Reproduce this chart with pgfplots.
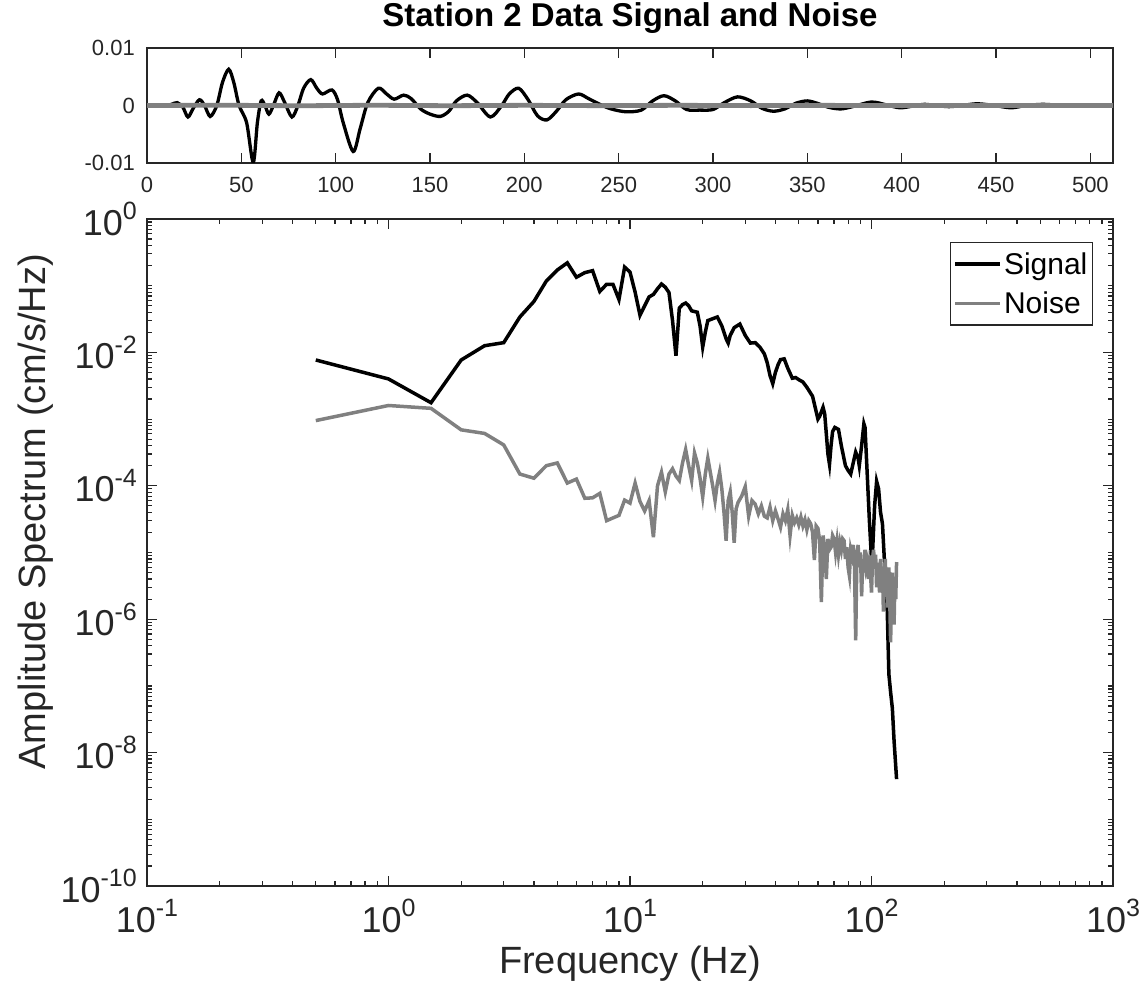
\documentclass[border=0pt]{standalone}
\usepackage{pgfplots}
\pgfplotsset{compat=1.18}
\usepackage{fontspec}
\setmainfont{Liberation Sans}
\definecolor{ax}{gray}{0.15}
\definecolor{noisec}{gray}{0.5}
\newcommand\E[1]{10\raisebox{0.42em}{\fontsize{25}{25}\selectfont #1}}
\begin{document}
\begin{tikzpicture}[x=1pt,y=1pt]
\path[use as bounding box] (0,0) rectangle (1148,1006);
% ---------------- top axis: time series
\begin{axis}[at={(147pt,843pt)}, anchor=south west, scale only axis,
  width=966pt, height=115pt,
  xmin=0, xmax=512, ymin=-0.01, ymax=0.01,
  scaled y ticks=false,
  xtick={0,50,100,150,200,250,300,350,400,450,500},
  xticklabels={0,50,100,150,200,250,300,350,400,450,500},
  ytick={-0.01,0,0.01}, yticklabels={-0.01,0,0.01},
  axis line style={ax, line width=1.2pt},
  tick style={ax, line width=1.2pt}, major tick length=10pt,
  tick align=inside,
  ticklabel style={text=ax, font=\fontsize{22}{24}\selectfont},
  xticklabel style={anchor=base, inner sep=0pt, yshift=-30pt},
  yticklabel style={anchor=east, inner sep=0pt, xshift=-12pt},
  title={Station 2 Data Signal and Noise},
  title style={at={(0.5,1)}, anchor=base, yshift=15pt, inner sep=0pt, font=\bfseries\fontsize{33}{36}\selectfont},
]
\addplot[black, line width=3.3pt, smooth, tension=0.5] coordinates {
(0,0) (10,0) (13,0.0002) (16,0.0005) (19,-0.0003) (21.7,-0.002) (24.5,-0.0005) (27.8,0.001) (30.5,0) (33.5,-0.0019) (37,0) (40,0.004) (43.3,0.0063) (46,0.004) (48.8,0) (52.8,-0.003) (56.3,-0.0099) (58.5,-0.003) (60.5,0.0008) (62.5,0) (64.6,-0.0015) (67,0) (70,0.0022) (73,0.0005) (76.8,-0.002) (80,0) (83,0.003) (86.8,0.0045) (90,0.003) (93,0.002) (98,0.0027) (101,0.001) (104,-0.003) (109.3,-0.008) (113,-0.004) (117,0.0005) (122.6,0.003) (127,0.002) (131,0.0011) (136,0.0018) (140,0.0012) (145,-0.0006) (150,-0.0015) (155.5,-0.0019) (160,-0.001) (164,0.0008) (169.7,0.0018) (175,0.0005) (182,-0.002) (188,0) (192,0.002) (197,0.003) (202,0.001) (207,-0.0018) (212,-0.0025) (217,-0.001) (222,0.001) (228.7,0.002) (234,0.0012) (240,0.0002) (246,-0.0006) (254,-0.0011) (262,-0.0008) (268,0.0008) (274,0.0017) (280,0.0008) (286,-0.0007) (293,-0.0008) (300,-0.0007) (306,0.0005) (313,0.0015) (320,0.0008) (326,-0.0005) (332,-0.001) (338,-0.0006) (344,0.0004) (350,0.0008) (356,0.0003) (361,-0.0003) (367.6,-0.0006) (374,-0.0002) (384,0.0006) (392,0.0001) (399,-0.0004) (406,-0.0001) (412,0.0002) (418,0) (425,-0.0002) (432,0) (440,0.0003) (449,0) (458,-0.0004) (466,0) (475,0.0002) (485,0) (495,-0.0001) (505,0) (512,0)
};
\addplot[noisec, line width=4.8pt] coordinates {
(0,0) (40,0.00005) (80,-0.00005) (120,0.00004) (160,-0.00004) (200,0.00003) (240,-0.00003) (280,0.00003) (320,-0.00002) (360,0.00002) (400,-0.00002) (440,0.00001) (480,-0.00001) (512,0)
};
\end{axis}
% ---------------- bottom axis: spectra
\begin{axis}[at={(147pt,120pt)}, anchor=south west, scale only axis,
  width=966pt, height=667pt,
  xmode=log, ymode=log,
  xmin=0.1, xmax=1000, ymin=1e-10, ymax=1,
  xtick={0.1,1,10,100,1000},
  xticklabels={\E{-1},\E{0},\E{1},\E{2},\E{3}},
  minor xtick={0.2,0.3,0.4,0.5,0.6,0.7,0.8,0.9,2,3,4,5,6,7,8,9,20,30,40,50,60,70,80,90,200,300,400,500,600,700,800,900},
  ytick={1e-10,1e-8,1e-6,1e-4,1e-2,1},
  yticklabels={\E{-10},\E{-8},\E{-6},\E{-4},\E{-2},\E{0}},
  minor ytick={2e-10,3e-10,4e-10,5e-10,6e-10,7e-10,8e-10,9e-10,1e-9,2e-9,3e-9,4e-9,5e-9,6e-9,7e-9,8e-9,9e-9,2e-8,3e-8,4e-8,5e-8,6e-8,7e-8,8e-8,9e-8,1e-7,2e-7,3e-7,4e-7,5e-7,6e-7,7e-7,8e-7,9e-7,2e-6,3e-6,4e-6,5e-6,6e-6,7e-6,8e-6,9e-6,1e-5,2e-5,3e-5,4e-5,5e-5,6e-5,7e-5,8e-5,9e-5,2e-4,3e-4,4e-4,5e-4,6e-4,7e-4,8e-4,9e-4,1e-3,2e-3,3e-3,4e-3,5e-3,6e-3,7e-3,8e-3,9e-3,2e-2,3e-2,4e-2,5e-2,6e-2,7e-2,8e-2,9e-2,1e-1,2e-1,3e-1,4e-1,5e-1,6e-1,7e-1,8e-1,9e-1},
  axis line style={ax, line width=1.2pt},
  tick style={ax, line width=1.2pt}, major tick length=10pt, minor tick length=5pt,
  tick align=inside,
  ticklabel style={text=ax, font=\fontsize{36}{40}\selectfont},
  xticklabel style={anchor=base, inner sep=0pt, yshift=-46pt},
  yticklabel style={anchor=east, inner sep=0pt, xshift=-10pt},
  xlabel={Frequency (Hz)},
  xlabel style={at={(axis description cs:0.5,0)}, anchor=base, yshift=-87pt, inner sep=0pt, text=ax, font=\fontsize{38}{42}\selectfont},
  ylabel={Amplitude Spectrum (cm/s/Hz)},
  ylabel style={at={(axis description cs:-0.1055,0.561)}, anchor=base, rotate=0, inner sep=0pt, text=ax, font=\fontsize{38}{42}\selectfont},
  legend style={at={(1,1)}, anchor=north east, xshift=-20pt, yshift=-23pt, draw=ax, line width=1.2pt, fill=white,
    font=\fontsize{30}{32}\selectfont, inner xsep=3pt, inner ysep=8pt, row sep=12pt, cells={anchor=west}},
  legend image code/.code={\draw[#1] (0pt,0pt) -- (45pt,0pt);},
]
\addplot[black, line width=3.5pt] coordinates {
(0.5,7.7e-3) (1.0,4.0e-3) (1.5,1.76e-3) (2.0,7.7e-3) (2.5,1.26e-2) (3.0,1.4e-2) (3.5,3.4e-2) (4.0,5.8e-2) (4.5,0.117) (5.0,0.172) (5.5,0.22) (6.0,0.134) (6.5,0.157) (7.0,0.168) (7.5,0.082) (8.0,0.105) (8.5,0.105) (9.0,0.062) (9.5,0.19) (10.0,0.16) (10.5,0.08) (11.0,0.036) (11.5,0.05) (12.0,0.068) (12.5,0.074) (13.0,0.09) (13.5,0.106) (14.0,0.095) (14.5,0.079) (15.0,0.03) (15.5,0.0089) (16.0,0.046) (16.5,0.052) (17.0,0.055) (17.5,0.05) (18.0,0.042) (19.0,0.04) (19.5,0.025) (20.0,0.012) (20.5,0.02) (21.0,0.03) (22.0,0.032) (23.0,0.034) (24.0,0.025) (25.0,0.016) (25.5,0.0138) (26,0.018) (27.0,0.0235) (28.5,0.0266) (30,0.018) (31.5,0.0138) (33,0.014) (34.5,0.012) (36,0.0095) (37,0.007) (38,0.0045) (39,0.0034) (40,0.005) (41,0.0065) (42,0.0078) (43.5,0.008) (45,0.0058) (47,0.0041) (48.5,0.0042) (50,0.0039) (52,0.0036) (54,0.003) (55,0.0027) (57,0.0022) (59,0.0013) (60,0.001) (61,0.0011) (63,0.0015) (64,0.0012) (65,0.0006) (66,0.0003) (67,2.1e-4) (68,0.0004) (69,0.00065) (70.5,7.5e-4) (72,7.2e-4) (73,7e-4) (75,4e-4) (78,2e-4) (80,1.7e-4) (82,1.5e-4) (84,2.2e-4) (86,3.2e-4) (88,2.6e-4) (89,2e-4) (91,4e-4) (93,8.5e-4) (94,7.5e-4) (96,1.5e-4) (98,3e-5) (100,8e-6) (101,1e-5) (103,5e-5) (105,1.17e-4) (107,9e-5) (109,4e-5) (111,2.7e-5) (113,8e-6) (116,1.7e-6) (118,1.5e-7) (120,8e-8) (122,4.6e-8) (124,1.5e-8) (127,4e-9)
};
\addlegendentry{Signal}
\addplot[noisec, line width=3.5pt] coordinates {
(0.5,9.5e-4) (1.0,1.6e-3) (1.5,1.45e-3) (2.0,6.9e-4) (2.5,6.1e-4) (3.0,4.1e-4) (3.5,1.5e-4) (4.0,1.3e-4) (4.5,2.0e-4) (5.0,2.2e-4) (5.5,1.1e-4) (6.0,1.26e-4) (6.5,6.5e-5) (7.0,6.6e-5) (7.5,7.7e-5) (8.0,3.0e-5) (8.5,3.3e-5) (9.0,3.6e-5) (9.5,6.1e-5) (10.0,5.5e-5) (10.5,1.1e-4) (11.0,5.8e-5) (11.5,4.2e-5) (12.0,6.0e-5) (12.5,1.7e-5) (13.0,1.0e-4) (13.5,1.6e-4) (14.0,8.1e-5) (14.5,1.5e-4) (15.0,1.8e-4) (15.5,1.4e-4) (16.0,1.2e-4) (16.5,2.2e-4) (17.0,3.5e-4) (17.5,2.0e-4) (18.0,1.2e-4) (18.5,3.1e-4) (19.0,2.2e-4) (19.5,1.3e-4) (20.0,6.8e-5) (20.5,1.5e-4) (21.0,2.6e-4) (21.5,1.6e-4) (22.0,1.0e-4) (22.5,6.0e-5) (23.0,1.1e-4) (23.5,1.6e-4) (24.0,9e-5) (24.5,4e-5) (25.0,1.5e-5) (25.5,6e-5) (26.0,8.1e-5) (26.5,4e-5) (27.0,1.4e-5) (27.5,4.5e-5) (28.0,5.6e-5) (29,7e-5) (30,9.7e-5) (31,3.5e-5) (32,6e-5) (33,5.3e-5) (34,3.8e-5) (35,5e-5) (36,3.5e-5) (37,3.3e-5) (38,4.8e-5) (39,3e-5) (40,4.2e-5) (41,3.2e-5) (42,2.4e-5) (43,3.8e-5) (44,3e-5) (45,4.4e-5) (46,1.8e-5) (47,3.6e-5) (48,2.8e-5) (49,3.3e-5) (50,2.6e-5) (51,3.4e-5) (52,2.5e-5) (53,3.1e-5) (54,2.2e-5) (55,3e-5) (56,2.7e-5) (57,2e-5) (58,7.7e-6) (59,2.5e-5) (60,2.3e-5) (61,1.5e-5) (62,1.8e-6) (63,1.8e-5) (64,1.2e-5) (65,4e-6) (66,1.6e-5) (67,1.1e-5) (68,1.2e-5) (69,1.8e-5) (70,1.6e-5) (71,1e-5) (72,1.5e-5) (73,9.3e-6) (74,1.4e-5) (75,1.1e-5) (76,1.6e-5) (77,1.5e-5) (78,8e-6) (79,1.2e-5) (80,6e-6) (81,4.5e-6) (82,1.1e-5) (83,9e-6) (84,1.3e-5) (85,7e-6) (86,4.8e-7) (87,9e-6) (88,1.3e-5) (89,6e-6) (90,1e-5) (91,2.2e-6) (92,8e-6) (93,5e-6) (94,1.1e-5) (95,6e-6) (96,7.2e-6) (97,4e-6) (98,9e-6) (99,5e-6) (100,2.5e-6) (101,8e-6) (102,1.1e-5) (103,6e-6) (104,9.3e-6) (105,3e-6) (106,7e-6) (107,5e-6) (108,2.5e-6) (109,8e-6) (110,4e-6) (111,6e-6) (112,1.3e-6) (113,5e-6) (114,8e-6) (115,3e-6) (116,4.5e-6) (117,1.5e-6) (118,6e-6) (119,2e-6) (120,4.5e-7) (121,3e-6) (122,5e-6) (123,1.5e-6) (124,8.3e-7) (125,4e-6) (126,2e-6) (127,7.2e-6)
};
\addlegendentry{Noise}
\end{axis}
\end{tikzpicture}
\end{document}
